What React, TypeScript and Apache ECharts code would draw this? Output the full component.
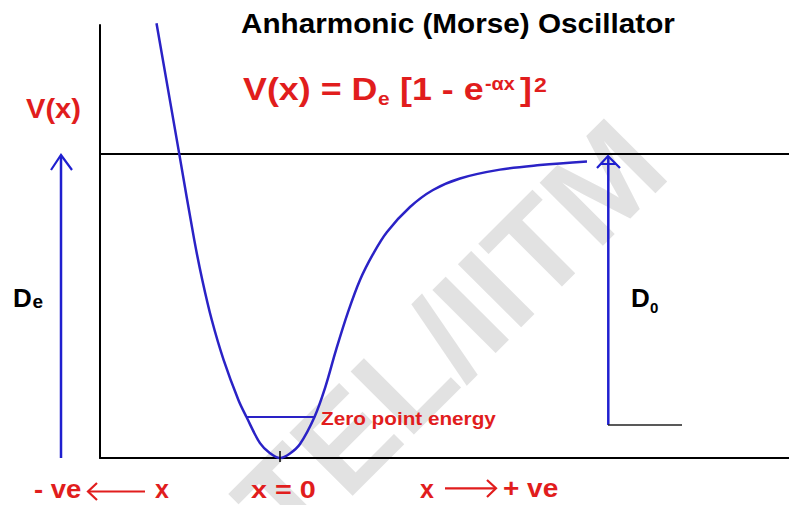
import React, { useEffect, useRef } from "react";
import * as echarts from "echarts";

// Morse potential curve (x in arbitrary units, V in units of De)
const curveX = [-1.235, -1.007, -0.857, -0.777, -0.682, -0.564, -0.416, -0.335, -0.2, -0.1, 0, 0.1, 0.2, 0.345, 0.45, 0.56, 0.68, 0.8, 0.93, 1.07, 1.3, 1.53, 1.8, 2.2, 2.6, 3.07];
const curveV = [1.431, 1.0, 0.717, 0.586, 0.454, 0.323, 0.191, 0.135, 0.049, 0.016, 0, 0.015, 0.046, 0.135, 0.23, 0.355, 0.48, 0.586, 0.671, 0.744, 0.826, 0.882, 0.92, 0.949, 0.964, 0.976];
// zero point energy level
const zpeX = [-0.335, 0.345];
const zpeV = [0.135, 0.135];
// dissociation energy level
const dissociationV = 1;
const xRange = [-1.8, 5.09];
const vRange = [0, 1.425];

const RED = "#e11d1d";
const BLUE = "#1f1fcf";
const CURVE = "#2a22c6";
const FONT = "'Liberation Sans', Arial, Helvetica, sans-serif";

function txt(text: string, x: number, y: number, size: number, color: string, sx = 1, weight: string = "bold") {
  return {
    type: "text",
    x,
    y,
    scaleX: sx,
    z: 10,
    style: {
      text,
      fontSize: size,
      fontWeight: weight,
      fontFamily: FONT,
      fill: color,
      align: "left",
      verticalAlign: "middle",
    },
  };
}

function seg(x1: number, y1: number, x2: number, y2: number, color: string, w: number) {
  return { type: "line", z: 10, shape: { x1, y1, x2, y2 }, style: { stroke: color, lineWidth: w } };
}

function poly(points: number[][], color: string, w: number) {
  return { type: "polyline", z: 10, shape: { points }, style: { stroke: color, lineWidth: w, fill: null } };
}

export default function App() {
  const ref = useRef<HTMLDivElement>(null);
  useEffect(() => {
    const chart = echarts.init(ref.current!, null, { renderer: "svg" });
    const wmAngle = (45 * Math.PI) / 180;
    chart.setOption({
      animation: false,
      backgroundColor: "#ffffff",
      grid: { left: 100, right: 0, top: 25, bottom: 47 },
      xAxis: {
        type: "value",
        min: xRange[0],
        max: xRange[1],
        axisLine: { show: true, onZero: false, lineStyle: { color: "#000", width: 2 } },
        axisTick: { show: false },
        axisLabel: { show: false },
        splitLine: { show: false },
      },
      yAxis: {
        type: "value",
        min: vRange[0],
        max: vRange[1],
        axisLine: { show: true, onZero: false, lineStyle: { color: "#000", width: 2 } },
        axisTick: { show: false },
        axisLabel: { show: false },
        splitLine: { show: false },
      },
      series: [
        {
          type: "line",
          data: curveX.map((x, i) => [x, curveV[i]]),
          smooth: 0.35,
          showSymbol: false,
          clip: false,
          lineStyle: { color: CURVE, width: 2.5 },
          z: 5,
          markLine: {
            silent: true,
            symbol: "none",
            label: { show: false },
            lineStyle: { color: "#000", width: 2.2, type: "solid" },
            data: [{ yAxis: dissociationV }],
          },
        },
        {
          type: "line",
          data: zpeX.map((x, i) => [x, zpeV[i]]),
          showSymbol: false,
          lineStyle: { color: CURVE, width: 2 },
          z: 5,
        },
      ],
      graphic: [
        {
          type: "text",
          x: 450,
          y: 335,
          rotation: wmAngle,
          z: 0,
          style: {
            text: "TEL/IITM",
            fontSize: 130,
            fontWeight: "bold",
            fontFamily: FONT,
            fill: "#e2e2e2",
            align: "center",
            verticalAlign: "middle",
          },
        },
        // title and formula
        txt("Anharmonic (Morse) Oscillator", 241, 23, 27, "#000", 1.1),
        txt("V(x) = D", 243, 89, 32, RED, 1.12),
        txt("e", 378, 98.5, 19, RED, 1.1),
        txt("[1 - e", 400, 89, 32, RED, 1.12),
        txt("-\u03b1x", 485, 84, 18, RED, 1.1),
        txt("]", 520, 89, 32, RED, 1.12),
        txt("2", 534, 84.5, 21, RED, 1.1),
        // left labels
        txt("V(x)", 26, 108, 28, RED, 1.04),
        txt("D", 13, 297.5, 26, "#000"),
        txt("e", 32.5, 301.3, 19, "#000"),
        // right labels
        txt("D", 631, 298, 26, "#000"),
        txt("0", 650, 307.7, 15, "#000"),
        txt("Zero point energy", 321, 418.5, 18.5, RED, 1.12),
        // bottom labels
        txt("- ve", 34, 489, 25, RED, 1.1),
        txt("x", 155, 489, 25, RED),
        txt("x = 0", 251, 490, 24, RED, 1.2),
        txt("x", 420, 489, 25, RED),
        txt("+ ve", 503, 489, 25, RED, 1.12),
        // red arrows
        seg(89, 491.5, 145, 491.5, RED, 2.2),
        poly([[97, 483], [88, 491.5], [97, 500]], RED, 2.2),
        seg(445, 488.3, 496, 488.3, RED, 2.2),
        poly([[487, 480], [496, 488.3], [487, 497]], RED, 2.2),
        // De arrow
        seg(61, 156, 61, 458, BLUE, 2.5),
        poly([[51, 170], [61, 155], [72, 170]], BLUE, 2.2),
        // D0 arrow
        seg(608.3, 157, 608.3, 425, BLUE, 2.5),
        poly([[597, 168], [608, 156], [620, 168]], BLUE, 2.2),
        seg(600, 164, 616, 164, BLUE, 2),
        seg(608, 425, 682, 425, "#222", 1.5),
        // tick at minimum
        seg(280, 451, 280, 462, "#000", 1.5),
      ],
    });
    return () => chart.dispose();
  }, []);
  return <div ref={ref} style={{ position: "absolute", left: 0, top: 0, width: 789, height: 505 }} />;
}
